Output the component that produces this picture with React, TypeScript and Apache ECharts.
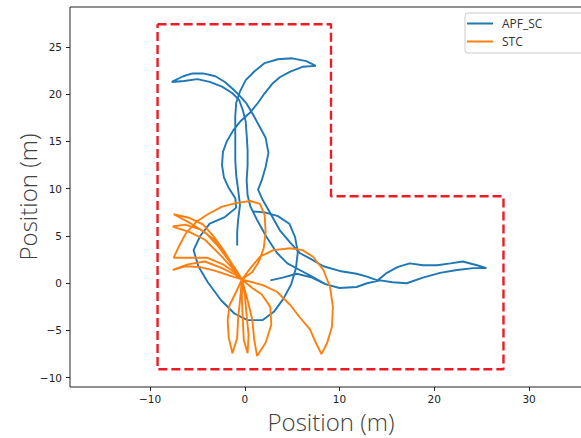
import React, { useEffect, useRef } from "react";
import * as echarts from "echarts";

// Axis extents (equal aspect, as in the reference)
const xMin = -18.44;
const xMax = 36.64;
const yMin = -10.98;
const yMax = 29.23;
const xTicks = [-10, 0, 10, 20, 30];
const yTicks = [-10, -5, 0, 5, 10, 15, 20, 25];

// Workspace boundary (L-shape)
const boundary: [number, number][] = [
  [-9.2, 27.4], [9.1, 27.4], [9.1, 9.2], [27.3, 9.2], [27.3, -9.1], [-9.2, -9.1], [-9.2, 27.4],
];

// APF_SC trajectory, part 1 (tail + right loop + left leaf)
const apfMain: [number, number][] = [
  [2.7, 0.3], [4.0, 0.6], [5.5, 1.0], [7.1, 0.6], [8.5, -0.1], [10.0, -0.5], [11.8, -0.4], [12.9, 0.0],
  [14.3, 0.3], [15.6, 0.1], [17.1, 0.0], [18.8, 0.6], [20.6, 1.1], [22.4, 1.4], [24.1, 1.6], [25.5, 1.6],
  [24.5, 1.9], [23.0, 2.3], [21.7, 2.1], [20.3, 1.9], [18.8, 1.9], [17.4, 2.1], [16.1, 1.7], [15.0, 1.1],
  [14.0, 0.3], [12.9, 0.7], [11.8, 1.0], [10.0, 1.3], [8.3, 1.8], [6.9, 2.6], [5.8, 3.2], [4.8, 4.3],
  [3.7, 5.6], [2.7, 7.4], [1.9, 8.8], [1.4, 9.9], [1.8, 10.9], [2.2, 12.3], [2.5, 13.8], [2.2, 15.4],
  [1.6, 16.5], [0.9, 17.8], [0.2, 19.0], [-0.5, 19.8], [-1.2, 20.5], [-2.1, 21.3], [-3.1, 21.9],
  [-4.4, 22.2], [-5.5, 22.2], [-6.5, 21.9], [-7.7, 21.3], [-6.4, 21.4], [-5.0, 21.6], [-3.7, 21.3],
  [-2.4, 20.8], [-1.3, 20.1], [-0.6, 19.4], [-0.2, 18.3], [0.1, 17.1], [0.2, 15.7], [0.3, 14.1],
  [0.3, 12.5], [0.2, 10.9], [0.3, 9.3], [0.6, 8.1], [1.3, 6.7], [2.3, 4.9], [3.4, 3.2], [4.5, 2.1],
  [5.8, 1.4], [7.1, 0.7], [8.5, -0.1],
];

// APF_SC trajectory, part 2 (lower loop + left loop + right leaf)
const apfLoop: [number, number][] = [
  [0.8, 7.6], [2.1, 7.5], [3.5, 7.1], [4.7, 6.3], [5.3, 4.9], [5.6, 3.3], [5.4, 1.6], [4.9, -0.1],
  [4.1, -1.6], [3.1, -3.0], [1.9, -3.9], [0.3, -3.9], [-1.1, -3.2], [-2.5, -1.8], [-3.9, 0.1],
  [-4.9, 1.8], [-5.4, 3.5], [-4.7, 5.0], [-3.7, 6.3], [-2.1, 7.0], [-0.9, 8.0], [-1.0, 9.0],
  [-1.7, 10.1], [-2.2, 11.2], [-2.4, 12.5], [-2.3, 13.9], [-1.9, 15.0], [-1.2, 16.2], [-0.4, 17.2],
  [0.6, 18.1], [1.4, 19.1], [2.1, 20.1], [2.9, 21.1], [3.7, 21.8], [4.8, 22.4], [6.1, 22.9], [7.5, 23.0],
  [6.5, 23.5], [5.0, 23.8], [3.5, 23.7], [2.1, 23.3], [1.0, 22.4], [0.1, 21.5], [-0.5, 20.3],
  [-0.9, 19.1], [-1.0, 17.7], [-1.0, 16.2], [-1.0, 14.6], [-1.0, 13.0], [-0.9, 11.4], [-0.7, 9.9],
  [-0.5, 8.3], [-0.7, 6.7], [-0.8, 5.4], [-0.8, 4.0],
];

// STC trajectory (petals around the hub)
const stcPath: [number, number][] = [
  [-0.3, 0.4],
  [0.6, 1.6], [1.6, 2.8], [3.0, 3.5], [4.8, 3.7], [6.1, 3.5], [7.2, 2.8], [8.3, 1.4], [9.0, -0.4],
  [9.3, -2.5], [9.2, -4.6], [8.7, -6.3], [8.1, -7.5], [7.5, -6.3], [6.9, -4.9], [5.8, -3.6],
  [4.8, -2.3], [3.4, -0.9], [1.9, -0.2],
  [-0.3, 0.4],
  [0.8, -0.5], [1.8, -1.2], [2.7, -2.5], [2.8, -4.4], [2.2, -6.3], [1.3, -7.7], [1.0, -6.0],
  [0.8, -3.9], [0.3, -1.8],
  [-0.3, 0.4],
  [0.0, -1.2], [0.2, -3.4], [0.4, -5.5], [0.3, -7.4], [-0.1, -6.0], [-0.2, -3.9], [-0.3, -1.8],
  [-0.3, 0.4],
  [-0.9, -0.9], [-1.6, -2.3], [-1.8, -3.9], [-1.7, -5.7], [-1.3, -7.4], [-0.8, -5.8], [-0.7, -3.7],
  [-0.5, -1.8],
  [-0.3, 0.4],
  [-1.6, 0.8], [-3.1, 1.3], [-4.7, 1.7], [-6.3, 1.8], [-7.6, 1.4], [-6.0, 2.0], [-4.2, 2.3],
  [-2.4, 1.6], [-1.0, 0.9],
  [-0.3, 0.4],
  [-0.9, 1.4], [-2.0, 3.0], [-3.2, 4.6], [-4.7, 5.7], [-6.3, 6.2], [-7.6, 6.0], [-5.8, 5.4],
  [-4.2, 4.6], [-2.6, 3.0], [-1.3, 1.6],
  [-0.3, 0.4],
  [-1.2, 1.8], [-2.3, 3.6], [-3.4, 5.1], [-4.4, 6.2], [-5.8, 6.9], [-7.5, 7.3], [-6.0, 6.5],
  [-4.2, 5.4], [-2.8, 3.9], [-1.6, 2.3],
  [-0.3, 0.4],
  [0.8, 1.2], [1.5, 2.3], [2.0, 3.7], [2.2, 5.4], [2.1, 7.2], [1.6, 8.4], [0.6, 8.7], [-0.8, 8.5],
  [-2.4, 8.1], [-3.9, 7.3], [-5.1, 6.5], [-6.2, 5.3], [-6.9, 4.0], [-7.5, 2.7], [-5.8, 2.7],
  [-4.0, 2.7], [-2.3, 2.0], [-1.0, 1.1],
  [-0.3, 0.4],
];

const BLUE = "#1f77b4";
const ORANGE = "#ff7f0e";
const RED = "#ec1c24";
const INK = "#222";

const minus = (v: number) => String(v).replace("-", "\u2212");

export default function App() {
  const ref = useRef<HTMLDivElement>(null);
  useEffect(() => {
    if (!ref.current) return;
    const chart = echarts.init(ref.current, null, { renderer: "svg" });
    const traj = (name: string, data: [number, number][], color: string) => ({
      type: "line",
      name,
      data,
      symbol: "none",
      showSymbol: false,
      clip: true,
      lineStyle: { color, width: 1.9 },
      itemStyle: { color },
      z: 3,
    });
    const titleStyle = {
      fontFamily: "Open Sans",
      fontSize: 24,
      fontWeight: 300,
      color: "#404040",
    };
    chart.setOption({
      animation: false,
      backgroundColor: "#fff",
      grid: {
        left: 70,
        top: 7,
        width: 522,
        height: 380,
        show: true,
        borderColor: INK,
        borderWidth: 1,
        containLabel: false,
        outerBoundsMode: "none",
      },
      legend: {
        data: ["APF_SC", "STC"],
        orient: "vertical",
        left: 465,
        top: 13,
        icon: "rect",
        itemWidth: 26,
        itemHeight: 2,
        itemGap: 5,
        padding: [4, 80, 5, 2],
        borderColor: "#cccccc",
        borderWidth: 1,
        borderRadius: 3,
        backgroundColor: "rgba(255,255,255,0.8)",
        textStyle: {
          fontFamily: "Open Sans",
          fontSize: 12,
          lineHeight: 13,
          color: "#333",
          padding: [0, 0, 0, 4],
        },
      },
      xAxis: {
        type: "value",
        min: xMin,
        max: xMax,
        axisLine: { show: false, onZero: false },
        splitLine: { show: false },
        axisTick: {
          show: true,
          length: 4,
          lineStyle: { color: INK, width: 1 },
          customValues: xTicks,
        },
        axisLabel: {
          customValues: xTicks,
          formatter: minus,
          color: INK,
          fontSize: 10.5,
          fontFamily: "DejaVu Sans",
          margin: 6,
        },
        name: "Position (m)",
        nameLocation: "middle",
        nameGap: 23,
        nameMoveOverlap: false,
        nameTextStyle: { ...titleStyle, lineHeight: 22 },
      },
      yAxis: {
        type: "value",
        min: yMin,
        max: yMax,
        axisLine: { show: false, onZero: false },
        splitLine: { show: false },
        axisTick: {
          show: true,
          length: 4,
          lineStyle: { color: INK, width: 1 },
          customValues: yTicks,
        },
        axisLabel: {
          customValues: yTicks,
          formatter: minus,
          color: INK,
          fontSize: 10.5,
          fontFamily: "DejaVu Sans",
          margin: 8,
        },
        name: "Position (m)",
        nameLocation: "middle",
        nameGap: 31,
        nameRotate: 90,
        nameMoveOverlap: false,
        nameTextStyle: titleStyle,
      },
      series: [
        traj("APF_SC", apfMain, BLUE),
        traj("APF_SC", apfLoop, BLUE),
        traj("STC", stcPath, ORANGE),
        {
          type: "line",
          name: "boundary",
          data: boundary,
          symbol: "none",
          clip: true,
          lineStyle: { color: RED, width: 2.4, type: [9, 4] },
          z: 4,
        },
      ],
    });
    return () => chart.dispose();
  }, []);
  return (
    <div
      ref={ref}
      style={{ position: "fixed", left: 0, top: 0, width: 581, height: 438 }}
    />
  );
}
